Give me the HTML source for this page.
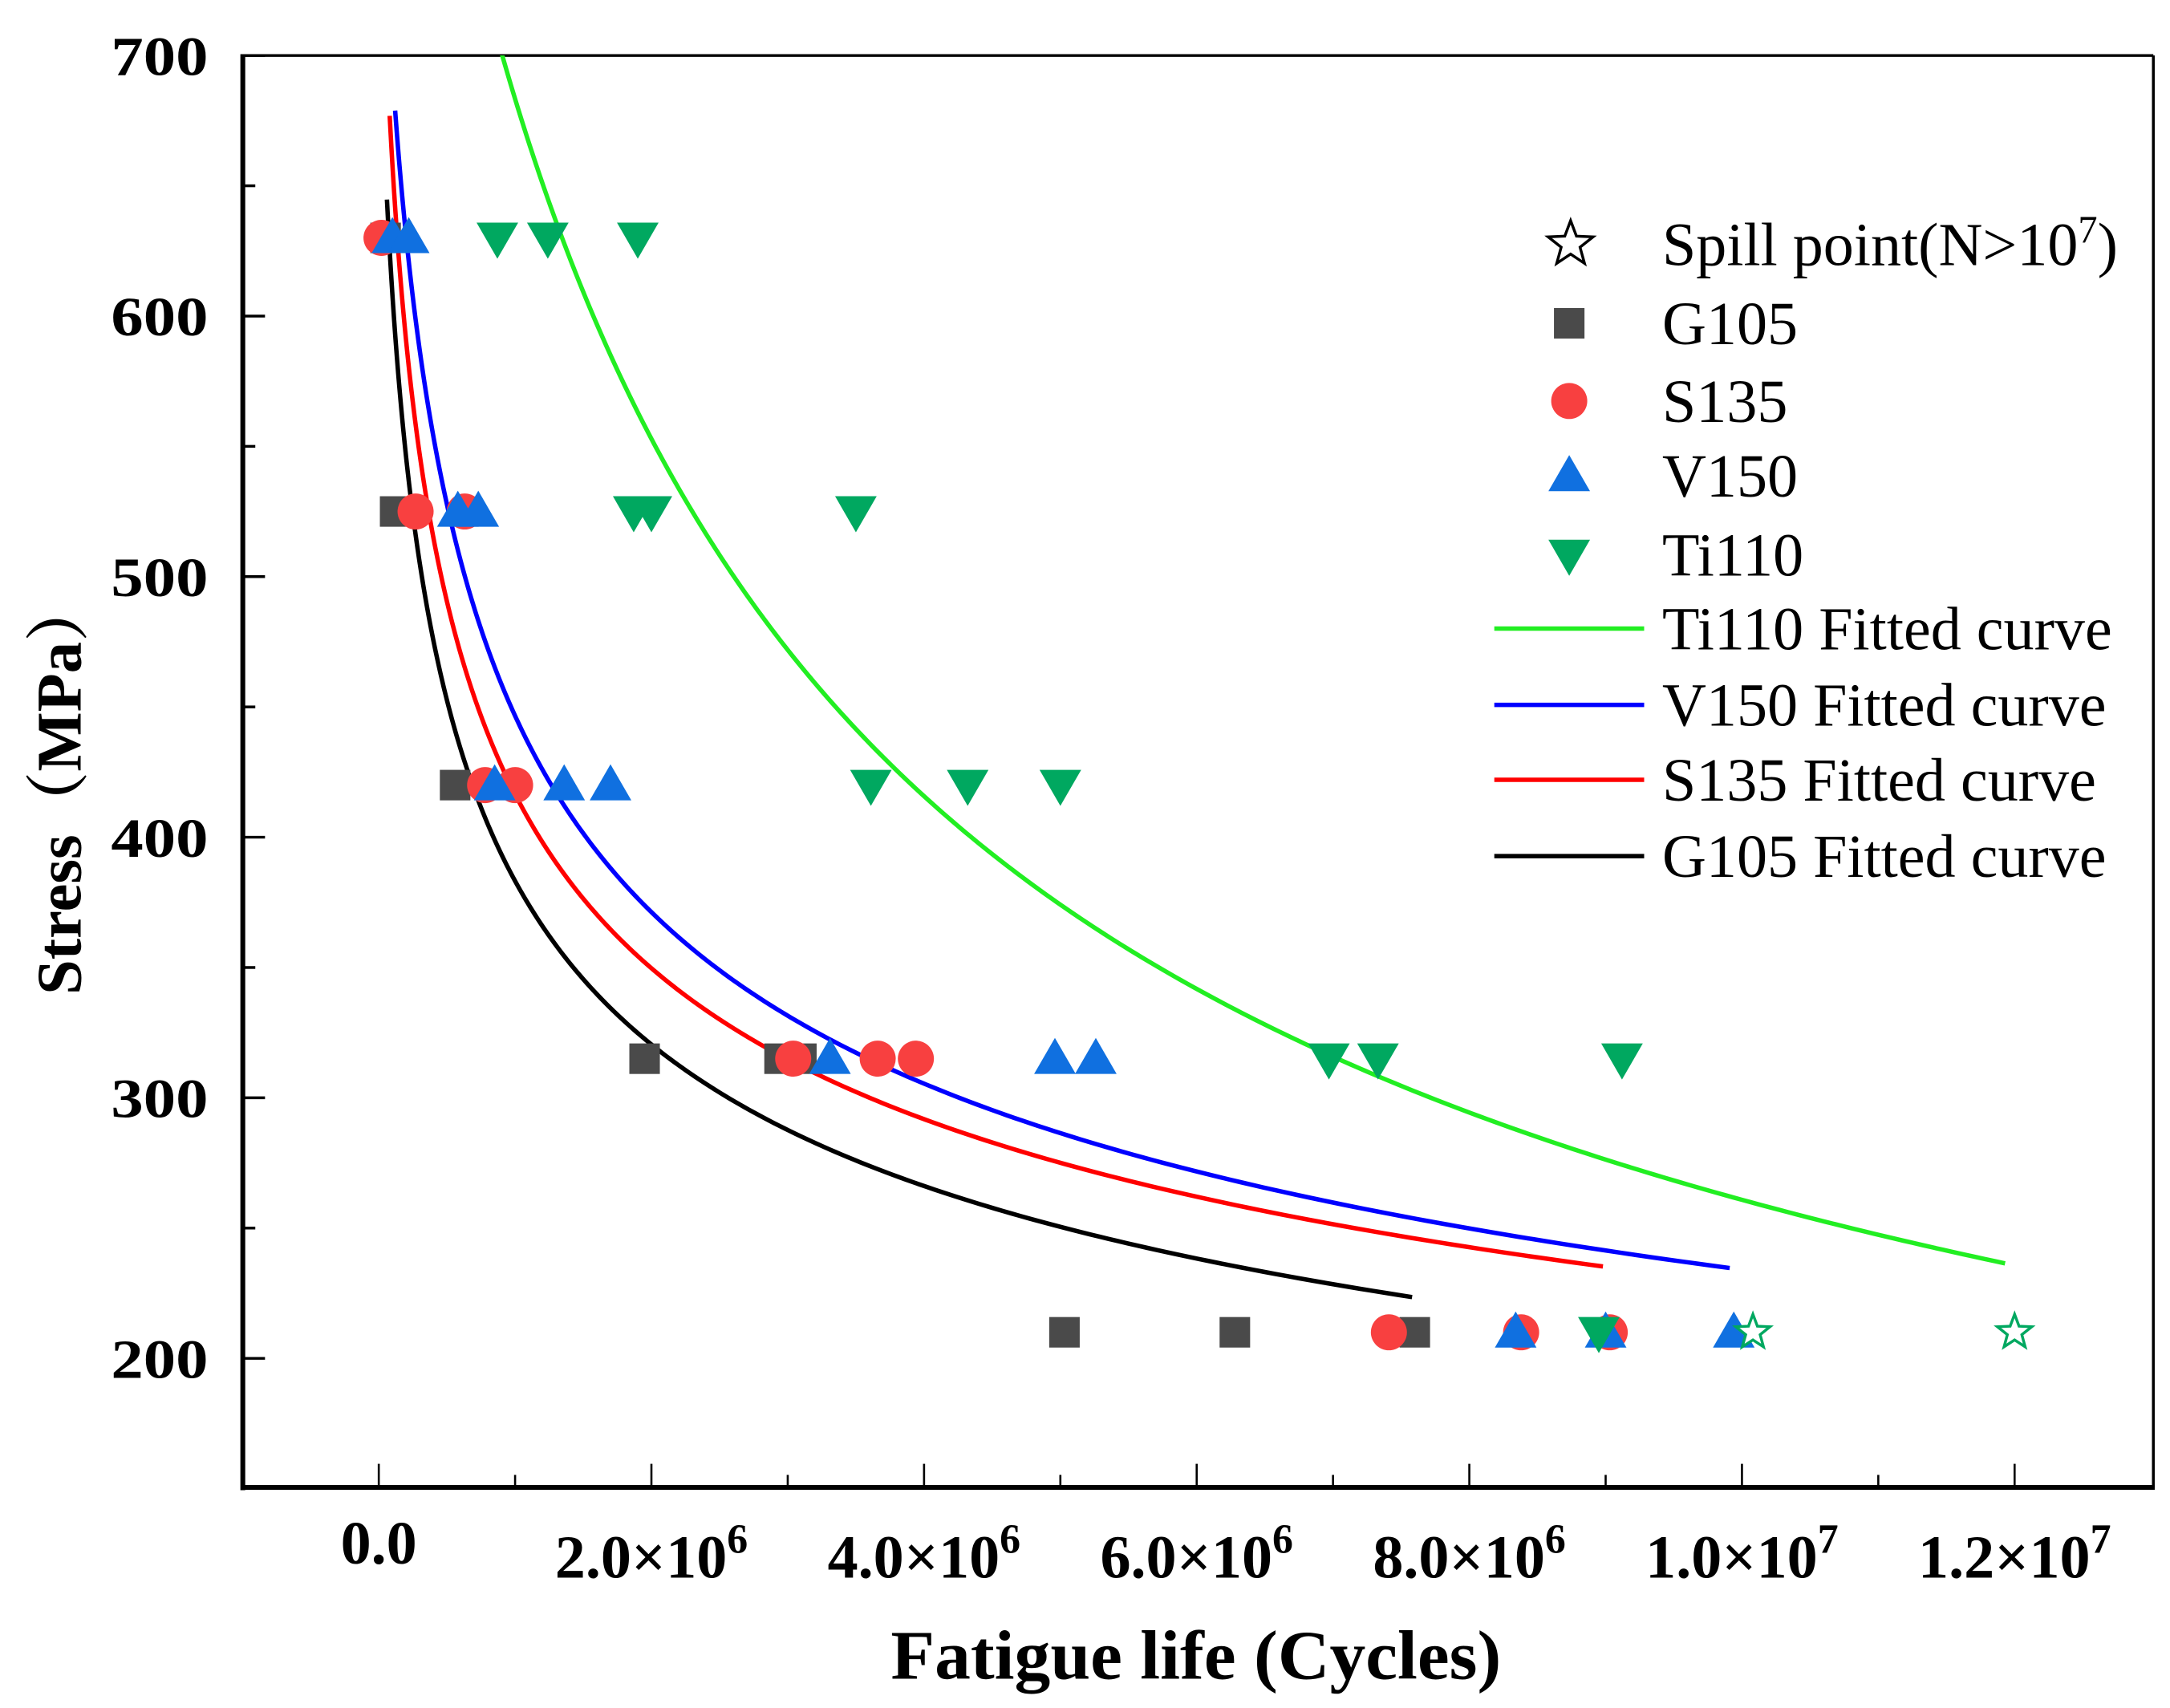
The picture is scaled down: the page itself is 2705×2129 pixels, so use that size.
<!DOCTYPE html>
<html><head><meta charset="utf-8"><style>
html,body{margin:0;padding:0;background:#fff;}
svg{display:block;}
text{font-family:"Liberation Serif",serif;}
</style></head><body>
<svg id="chart" width="2705" height="2129" viewBox="0 0 1564 1231" preserveAspectRatio="none" xmlns="http://www.w3.org/2000/svg">
<g id="plot"></g>
</svg>
<script>
// ---- data (x in millions of cycles, y in MPa) ----
const yTicks = [200,300,400,500,600,700];
const yMinor = [250,350,450,550,650];
const xTicks = [0,2,4,6,8,10,12];
const xMinor = [1,3,5,7,9,11];
const xTickLabels = ["0.0","2.0×10","4.0×10","6.0×10","8.0×10","1.0×10","1.2×10"];
const xTickExp = ["","6","6","6","6","7","7"];

const g105X = [0.05,0.12,0.56,1.95,2.94,3.1,5.03,6.28,7.6];
const g105Y = [630,525,420,315,315,315,210,210,210];
const s135X = [0.02,0.27,0.63,0.78,1.0,3.04,3.66,3.94,7.41,8.38,9.03];
const s135Y = [630,525,525,420,420,315,315,315,210,210,210];
const v150X = [0.1,0.22,0.58,0.73,0.85,1.36,1.7,3.31,4.96,5.26,8.34,9.0,9.94];
const v150Y = [630,630,525,525,420,420,420,315,315,315,210,210,210];
const ti110X = [0.87,1.24,1.9,1.87,2.0,3.5,3.61,4.32,5.0,6.97,7.33,9.12,8.95];
const ti110Y = [630,630,630,525,525,525,420,420,420,315,315,315,210];
const spillX = [10.08,12.0];
const spillY = [210,210];

// points
const g105FitX = [0.06,0.116,0.35,0.64,1.17,2.08,3.11,4.31,5.51,7.58];
const g105FitY = [650,591,489,421,373,317,289,262,243,221];
const s135FitX = [0.08,0.22,0.47,0.94,1.57,2.99,4.91,6.71,8.98];
const s135FitY = [674,591,489,421,373,316.5,279,253,234.4];
const v150FitX = [0.12,0.30,0.69,1.23,1.94,3.59,6.11,7.91,9.91];
const v150FitY = [677,591,489,421,373,316.5,273,249.6,233.7];
const ti110FitX = [0.89,1.70,2.82,3.66,4.87,6.95,9.11,11.93];
const ti110FitY = [700,591,489,421,380,320,276,235];

// ---- axes ----
const L=175,R=1552,T=40,B=1072;
function sx(v){return 273 + v*98.25;}
function sy(v){return 40 + (700-v)*1.878;}
const NS="http://www.w3.org/2000/svg";
const g=document.getElementById('plot');
function mk(tag,attrs,parent){const e=document.createElementNS(NS,tag);for(const k in attrs)e.setAttribute(k,attrs[k]);(parent||g).appendChild(e);return e;}

let e;
e=mk('line',{x1:L,y1:T,x2:R,y2:T,stroke:'#000','stroke-width':2});


e=mk('line',{x1:R,y1:T,x2:R,y2:B,stroke:'#000','stroke-width':2});


e=mk('line',{x1:L,y1:T-1,x2:L,y2:B+2,stroke:'#000','stroke-width':3.5});


e=mk('line',{x1:L,y1:B,x2:R+1,y2:B,stroke:'#000','stroke-width':3.5});



yTicks.forEach(v=>{
  e=mk('line',{x1:L,y1:sy(v),x2:L+16,y2:sy(v),stroke:'#000','stroke-width':2});
  
  
  e=mk('text',{x:150,y:sy(v)+14,'text-anchor':'end','font-size':40,'font-weight':'bold',textLength:70,lengthAdjust:'spacingAndGlyphs'});
  e.textContent=v;
  
  
});
yMinor.forEach(v=>{
  e=mk('line',{x1:L,y1:sy(v),x2:L+9,y2:sy(v),stroke:'#000','stroke-width':2});
  
  
});
xTicks.forEach((v,i)=>{
  e=mk('line',{x1:sx(v),y1:B,x2:sx(v),y2:B-17,stroke:'#000','stroke-width':1.5});
  
  
  const t=mk('text',{x:sx(v),y:i===0?1127:1137,'text-anchor':'middle','font-size':44,'font-weight':'bold'});
  t.textContent=xTickLabels[i];
  if(xTickExp[i]){const s=mk('tspan',{dy:-18,'font-size':30},t);s.textContent=xTickExp[i];}
  
  
});
xMinor.forEach(v=>{
  e=mk('line',{x1:sx(v),y1:B,x2:sx(v),y2:B-9,stroke:'#000','stroke-width':1.5});
  
  
});

e=mk('text',{x:862,y:1210,'text-anchor':'middle','font-size':50,'font-weight':'bold',textLength:440,lengthAdjust:'spacingAndGlyphs'});
e.textContent='Fatigue life (Cycles)';


e=mk('text',{x:0,y:0,'text-anchor':'middle','font-size':46,'font-weight':'bold',textLength:300,lengthAdjust:'spacingAndGlyphs',transform:'translate(58,567) rotate(-90)'});
e.textContent='Stress（MPa）';


e.style.fontFamily='"Liberation Serif","Noto Serif CJK SC",serif';

// curves: least-squares fit of y = A*(x-N0)^b to the read points, then drawn smoothly
function fitCurve(xs,ys){
  const minX=Math.min(...xs);
  let best=null;
  for(let k=0;k<=600;k++){
    const n0=-2+(minX*0.995+2)*k/600;
    const u=xs.map(x=>Math.log(x-n0)),v=ys.map(Math.log),n=u.length;
    const mu=u.reduce((a,b)=>a+b)/n,mv=v.reduce((a,b)=>a+b)/n;
    let sxy=0,sxx=0;for(let i=0;i<n;i++){sxy+=(u[i]-mu)*(v[i]-mv);sxx+=(u[i]-mu)**2;}
    const b=sxy/sxx,a=mv-b*mu;
    let sse=0;for(let i=0;i<n;i++)sse+=(a+b*u[i]-v[i])**2;
    if(!best||sse<best.sse)best={n0,a,b,sse};
  }
  return best;
}
function curvePath(xs,ys){
  const f=fitCurve(xs,ys);
  const x0=xs[0],x1=xs[xs.length-1];
  let d='';
  for(let k=0;k<=300;k++){
    const t=k/300;
    const x=f.n0+Math.exp(Math.log(x0-f.n0)+(Math.log(x1-f.n0)-Math.log(x0-f.n0))*t);
    const y=Math.exp(f.a+f.b*Math.log(x-f.n0));
    d+=(d?' L':'M')+sx(x).toFixed(2)+','+sy(y).toFixed(2);
  }
  return d;
}
const clip=mk('clipPath',{id:'clp'});
mk('rect',{x:L,y:T,width:R-L,height:B-T},clip);
[[ti110FitX,ti110FitY,'#22ee22','ti110-fitted-curve'],[v150FitX,v150FitY,'#0000ff','v150-fitted-curve'],[s135FitX,s135FitY,'#ff0000','s135-fitted-curve'],[g105FitX,g105FitY,'#000','g105-fitted-curve']].forEach(c=>{
  const p=mk('path',{d:curvePath(c[0],c[1]),fill:'none',stroke:c[2],'stroke-width':3.2,'stroke-linejoin':'round','clip-path':'url(#clp)'});
  
  
});

// markers
function square(x,y,c){return mk('rect',{x:x-11,y:y-11,width:22,height:22,fill:c});}
function circle(x,y,c){return mk('circle',{cx:x,cy:y,r:13,fill:c});}
function triUp(x,y,c){return mk('polygon',{points:`${x},${y-15} ${x+15},${y+11} ${x-15},${y+11}`,fill:c});}
function triDown(x,y,c){return mk('polygon',{points:`${x},${y+15} ${x+15},${y-11} ${x-15},${y-11}`,fill:c});}
function star(x,y,c,r){let pts=[];for(let k=0;k<10;k++){const a=-Math.PI/2+k*Math.PI/5,rr=k%2?r*0.42:r;pts.push((x+rr*Math.cos(a)).toFixed(1)+','+(y+rr*Math.sin(a)).toFixed(1));}return mk('polygon',{points:pts.join(' '),fill:'#fff',stroke:c,'stroke-width':2});}

g105X.forEach((x,i)=>{const m=square(sx(x),sy(g105Y[i]),'#4a4a4a');
  
  });
s135X.forEach((x,i)=>{const m=circle(sx(x),sy(s135Y[i]),'#f84040');
  
  });
v150X.forEach((x,i)=>{const m=triUp(sx(x),sy(v150Y[i]),'#1070e0');
  
  });
ti110X.forEach((x,i)=>{const m=triDown(sx(x),sy(ti110Y[i]),'#00a860');
  
  });
spillX.forEach((x,i)=>{const m=star(sx(x),sy(spillY[i]),'#00a860',13);
  
  });

// legend
const lg=mk('g',{});


const legendLabels=['Spill point(N>10','G105','S135','V150','Ti110','Ti110 Fitted curve','V150 Fitted curve','S135 Fitted curve','G105 Fitted curve'];
const legendRowsY=[176,233,289,343,400,453,508,562,617];
legendLabels.forEach((lab,i)=>{
  const y=legendRowsY[i];let m;
  if(i===0){m=star(1132,y,'#000',17);}
  else if(i===1)m=square(1131,y,'#4a4a4a');
  else if(i===2)m=circle(1131,y,'#f84040');
  else if(i===3)m=triUp(1131,y,'#1070e0');
  else if(i===4)m=triDown(1131,y,'#00a860');
  else{const cols=['#22ee22','#0000ff','#ff0000','#000'];m=mk('line',{x1:1077,y1:y,x2:1185,y2:y,stroke:cols[i-5],'stroke-width':3.2});}
  lg.appendChild(m);
  
  
  const t=mk('text',{x:1198,y:y+15,'font-size':44},lg);
  t.textContent=lab;
  if(i===0){const s=mk('tspan',{dy:-16,'font-size':28},t);s.textContent='7';const s2=mk('tspan',{dy:16},t);s2.textContent=')';}
  
  
});
</script>
</body></html>
